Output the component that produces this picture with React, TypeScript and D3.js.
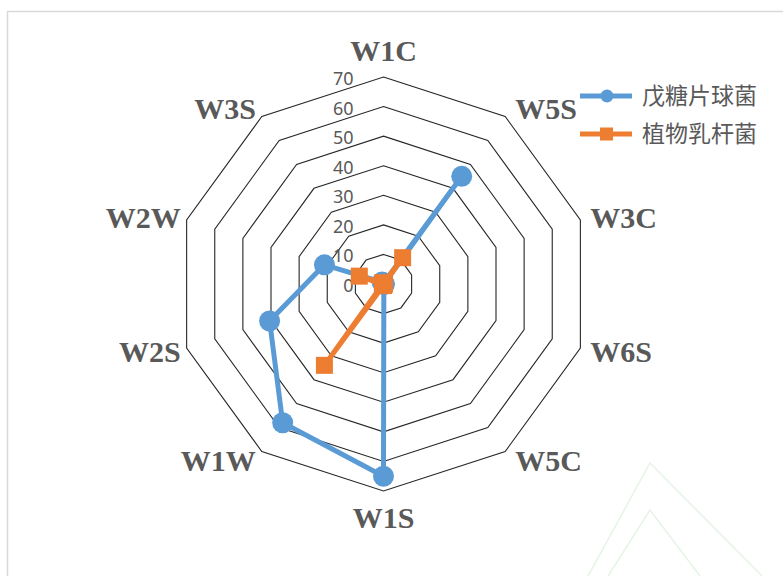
import React from "react";
import * as d3 from "d3";

const categories = ["W1C", "W5S", "W3C", "W6S", "W5C", "W1S", "W1W", "W2S", "W2W", "W3S"];
const seriesNames = ["戊糖片球菌", "植物乳杆菌"];
const pediococcus = [0.25, 45, 0.2, 0.3, 0.2, 65, 58, 40.5, 21, 0.8];
const lactobacillus = [0.3, 11, 0.3, 0.2, 0.2, 0.55, 34, 0.4, 8.6, 0.5];
const tickValues = [0, 10, 20, 30, 40, 50, 60, 70];

const W = 783;
const H = 576;
const cx = 383.5;
const cy = 284;
const R = 207;
const BLUE = "#5B9BD5";
const ORANGE = "#ED7D31";
const TXT = "#595959";

export default function App() {
  const r = d3.scaleLinear().domain([0, 70]).range([0, R]);
  const n = categories.length;
  const ang = (i: number) => (i * 2 * Math.PI) / n;
  const pt = (i: number, v: number): [number, number] => [
    cx + r(v) * Math.sin(ang(i)),
    cy - r(v) * Math.cos(ang(i)),
  ];
  const radial = d3
    .lineRadial<number>()
    .angle((_, i) => ang(i))
    .radius((d) => r(d))
    .curve(d3.curveLinearClosed);

  const ring = (v: number) => radial(categories.map(() => v)) as string;

  const labels = categories.map((c, i) => {
    const a = ang(i);
    const ux = Math.sin(a);
    const uy = -Math.cos(a);
    const [vx, vy] = pt(i, 70);
    if (Math.abs(ux) < 0.1) {
      return { c, x: vx, y: uy < 0 ? vy - 16 : vy + 37, anchor: "middle" };
    }
    const x = vx + (ux > 0 ? 10 : -6);
    const yc = vy + uy * 10 + 1;
    return { c, x, y: yc + 10, anchor: ux > 0 ? "start" : "end" };
  });

  const series = [
    { name: seriesNames[0], data: pediococcus, color: BLUE, marker: "circle" },
    { name: seriesNames[1], data: lactobacillus, color: ORANGE, marker: "square" },
  ];

  return (
    <svg
      width={W}
      height={H}
      style={{ position: "absolute", left: 0, top: 0, background: "#fff" }}
    >
      <rect x={0} y={0} width={W} height={H} fill="#fff" />
      <rect x={7.5} y={11.5} width={W} height={H} fill="#fff" stroke="#d9d9d9" strokeWidth={1.5} />
      <g fill="none" stroke="#e6f4e6" strokeWidth={1.5}>
        <polyline points="588,576 650,463 762,576" />
        <polyline points="608,576 650,510 700,576" />
      </g>
      <g transform={`translate(${cx},${cy})`} fill="none" stroke="#262626" strokeWidth={1.1}>
        {tickValues.slice(1).map((t) => (
          <path key={t} d={ring(t)} />
        ))}
      </g>
      <g fontFamily="'Noto Sans', 'Open Sans', sans-serif" fontSize={18} fill={TXT} textAnchor="end">
        {tickValues.map((t) => (
          <text key={t} x={cx - 30} y={cy - r(t) + 8}>
            {t}
          </text>
        ))}
      </g>
      <g fontFamily="'Liberation Serif', 'Times New Roman', serif" fontWeight="bold" fontSize={30} fill={TXT}>
        {labels.map((l) => (
          <text key={l.c} x={l.x} y={l.y} textAnchor={l.anchor as any}>
            {l.c}
          </text>
        ))}
      </g>
      {series.map((s) => (
        <g key={s.name}>
          <path
            transform={`translate(${cx},${cy})`}
            d={radial(s.data) as string}
            fill="none"
            stroke={s.color}
            strokeWidth={5}
            strokeLinejoin="round"
          />
          {s.data.map((v, i) => {
            const [x, y] = pt(i, v);
            return s.marker === "circle" ? (
              <circle key={i} cx={x} cy={y} r={10.5} fill={s.color} />
            ) : (
              <rect key={i} x={x - 8.5} y={y - 8.5} width={17} height={17} fill={s.color} />
            );
          })}
        </g>
      ))}
      <g>
        {series.map((s, k) => {
          const y = 96 + k * 38;
          return (
            <g key={s.name}>
              <line x1={580} x2={632} y1={y} y2={y} stroke={s.color} strokeWidth={5} />
              {s.marker === "circle" ? (
                <circle cx={607} cy={y} r={6.5} fill={s.color} />
              ) : (
                <rect x={600} y={y - 6.5} width={13} height={13} fill={s.color} />
              )}
              <text
                x={642}
                y={y + 8}
                fontFamily="'Noto Sans CJK SC', sans-serif"
                fontSize={23}
                fill={TXT}
              >
                {s.name}
              </text>
            </g>
          );
        })}
      </g>
    </svg>
  );
}
